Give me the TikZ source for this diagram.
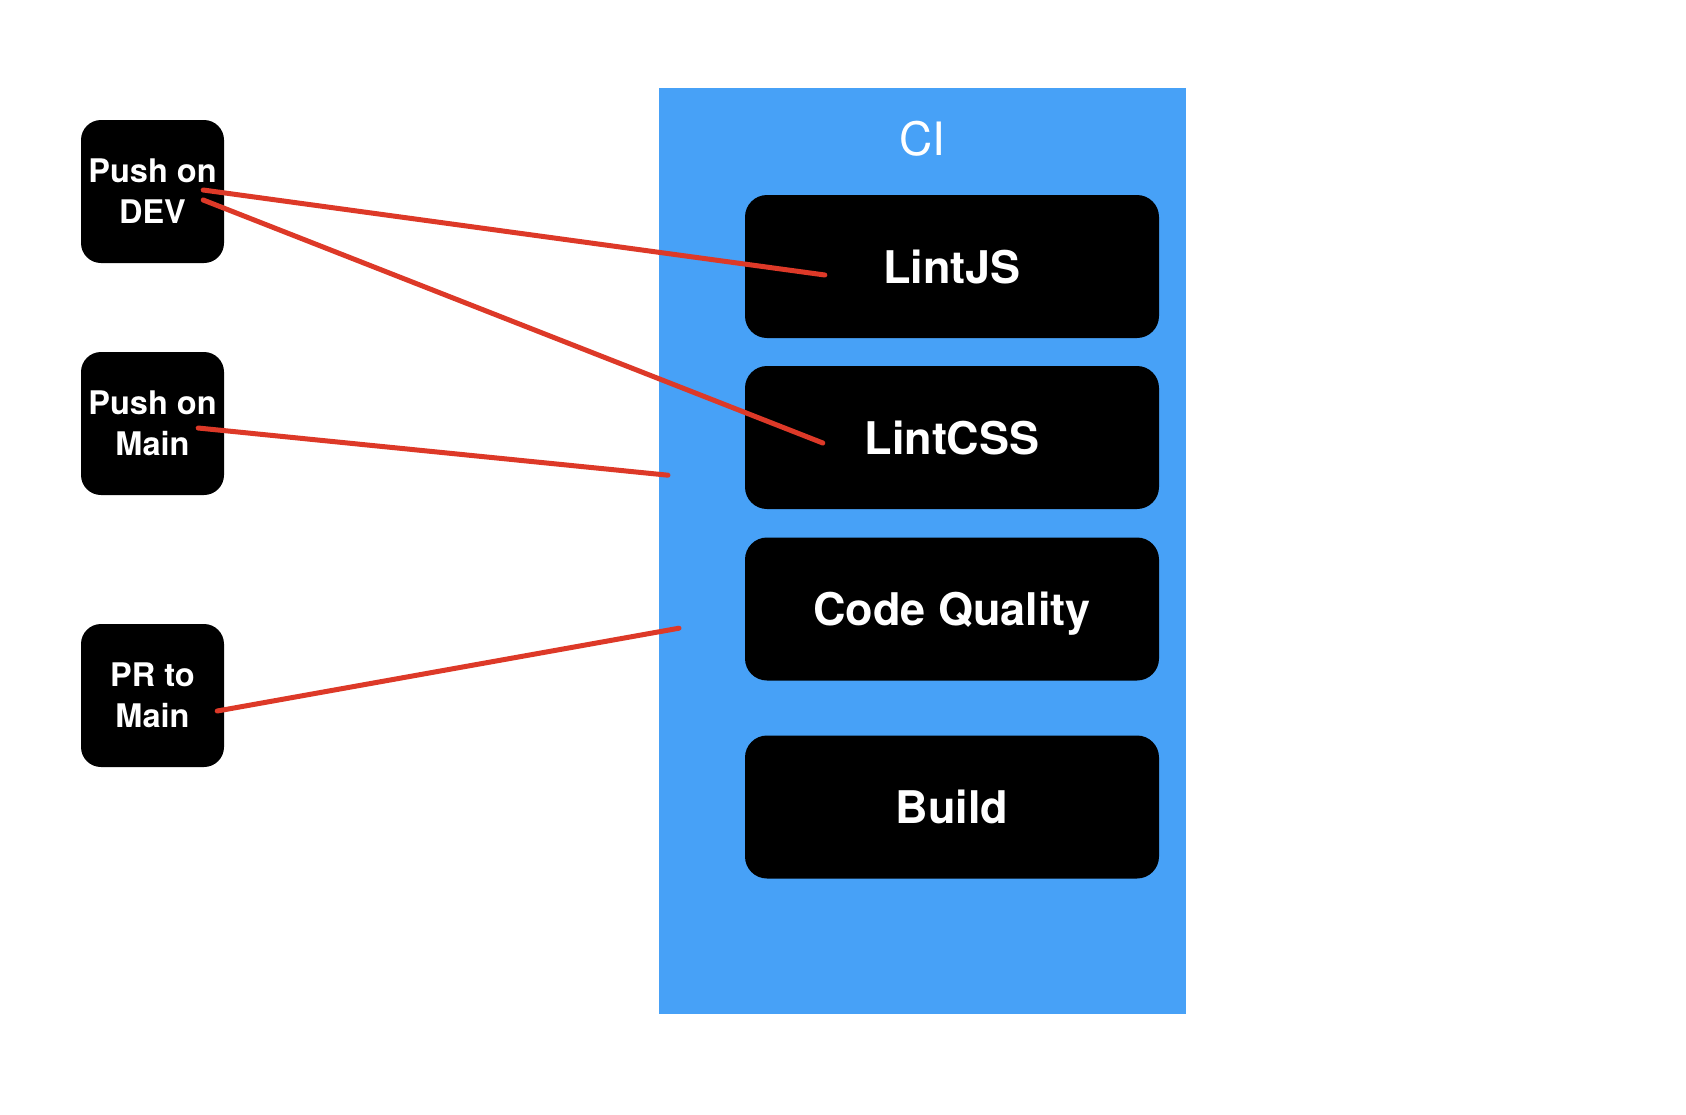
\documentclass[tikz,border=0pt]{standalone}
\usepackage{fontspec}
\setmainfont{TeX Gyre Heros}
\usetikzlibrary{calc}
\definecolor{ciblue}{RGB}{71,161,247}
\definecolor{pencil}{RGB}{221,57,40}

\begin{document}
\begin{tikzpicture}[x=1pt,y=-1pt,
    trigger/.style={fill=black, text=white, rounded corners=20pt, minimum width=143pt, minimum height=143pt, inner sep=0pt, align=center, font=\fontsize{32.5}{41}\selectfont\bfseries},
    job/.style={fill=black, text=white, rounded corners=22pt, minimum width=414pt, minimum height=143pt, inner sep=0pt, text depth=0pt, font=\fontsize{45}{54}\selectfont\bfseries},
    wire/.style={draw=pencil, line width=5pt, line cap=round}]
    \useasboundingbox (0,0) rectangle (1686,1114);

    % CI column
    \node[fill=ciblue, minimum width=527pt, minimum height=926pt, inner sep=0pt, anchor=north west] (ci) at (659,88) {};
    \node[text=white, font=\fontsize{46}{55}\selectfont] (citext) at (922.5,139) {CI};

    \foreach \name/\y/\txt in {lintjs/266.5/LintJS, lintcss/437.5/LintCSS, quality/609/Code Quality, build/807/Build}
      \node[job] (\name) at (952,\y) {\txt};

    % triggers
    \node[trigger] (dev) at (152.5,191.5) {Push on\\DEV};
    \node[trigger] (main) at (152.5,423.5) {Push on\\Main};
    \node[trigger] (pr) at (152.5,695.5) {PR to\\Main};

    % pencil lines
    \draw[wire] ($(dev.east)+(-21,-1.5)$) -- ($(lintjs.west)+(80,8.5)$);
    \draw[wire] ($(dev.east)+(-21,8.5)$) -- ($(lintcss.west)+(78,5.5)$);
    \draw[wire] ($(main.east)+(-26,4.5)$) -- ($(ci.west)+(9,-76)$);
    \draw[wire] ($(pr.east)+(-7,15.5)$) -- ($(ci.west)+(20,77)$);
\end{tikzpicture}
\end{document}
